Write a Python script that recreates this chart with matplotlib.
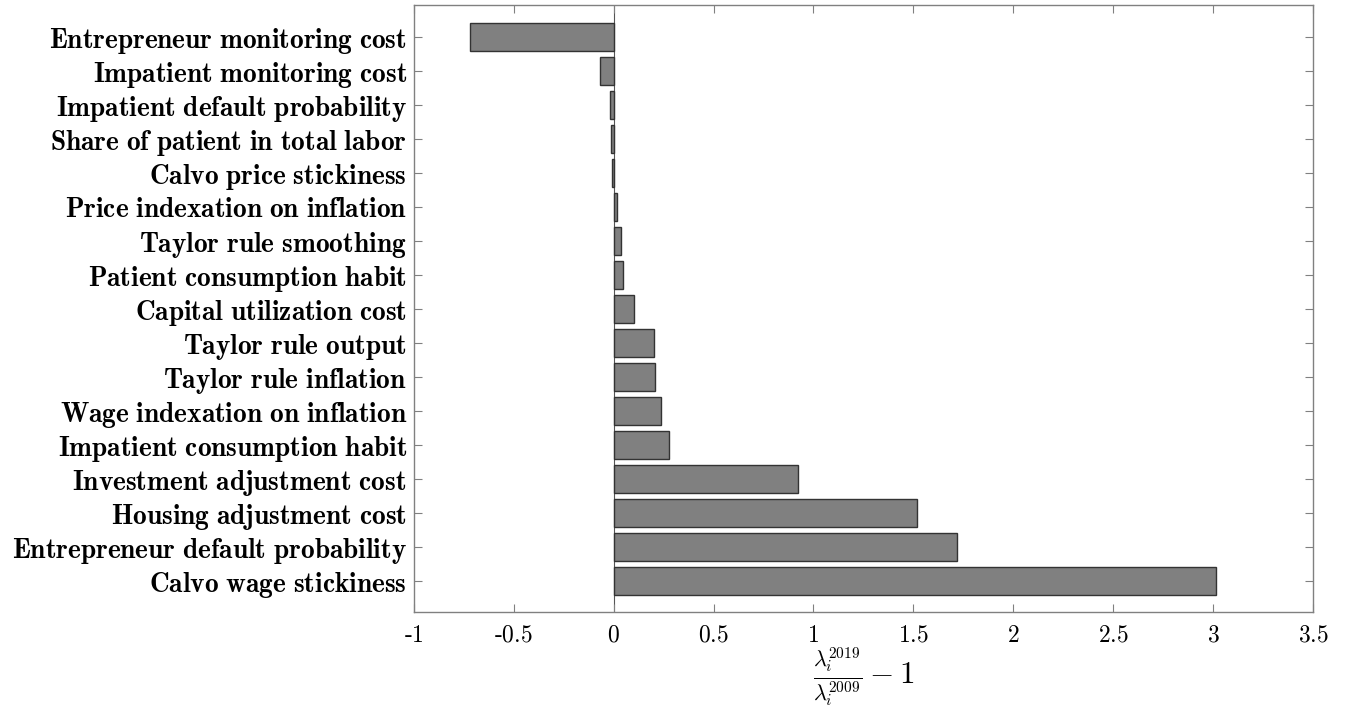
import numpy as np
import matplotlib
matplotlib.use('Agg')
import matplotlib.pyplot as plt

plt.rcParams['mathtext.fontset'] = 'cm'

# parameters, top to bottom
params = ['Entrepreneur monitoring cost', 'Impatient monitoring cost',
          'Impatient default probability', 'Share of patient in total labor',
          'Calvo price stickiness', 'Price indexation on inflation',
          'Taylor rule smoothing', 'Patient consumption habit',
          'Capital utilization cost', 'Taylor rule output',
          'Taylor rule inflation', 'Wage indexation on inflation',
          'Impatient consumption habit', 'Investment adjustment cost',
          'Housing adjustment cost', 'Entrepreneur default probability',
          'Calvo wage stickiness']
# lambda_i^2019 / lambda_i^2009 - 1
ratio = [-0.72, -0.07, -0.018, -0.013, -0.008, 0.017, 0.038, 0.047,
         0.10, 0.20, 0.205, 0.235, 0.275, 0.925, 1.52, 1.72, 3.013]
xticks = [-1, -0.5, 0, 0.5, 1, 1.5, 2, 2.5, 3, 3.5]
xtick_labels = ['-1', '-0.5', '0', '0.5', '1', '1.5', '2', '2.5', '3', '3.5']

fig = plt.figure(figsize=(13.48, 7.09), dpi=100)
ax = fig.add_axes([0.307, 0.137, 0.667, 0.856])

n = len(params)
ypos = np.arange(n, 0, -1)
ax.barh(ypos, ratio, height=0.8, color='#808080', edgecolor='#333333', linewidth=1.0)
ax.axvline(0, color='#555555', linewidth=0.8, zorder=0)

ax.set_xlim(-1, 3.5)
ax.set_ylim(0.09, n + 0.94)
ax.set_yticks(ypos)
ax.set_yticklabels([r'$\mathbf{%s}$' % p.replace(' ', r'\ ') for p in params], fontsize=19.7)
ax.set_xticks(xticks)
ax.set_xticklabels([r'$\text{%s}$' % t for t in xtick_labels], fontsize=17)

ax.tick_params(direction='in', length=6, width=0.8, color='#808080',
               top=True, right=True, pad=8)
ax.tick_params(axis='y', pad=5)
for s in ax.spines.values():
    s.set_color('#808080')
    s.set_linewidth(1.0)

ax.set_xlabel(r'$\frac{\lambda_i^{2019}}{\lambda_i^{2009}}-1$', fontsize=22.5, labelpad=-1)

fig.savefig('out.png', dpi=100)
